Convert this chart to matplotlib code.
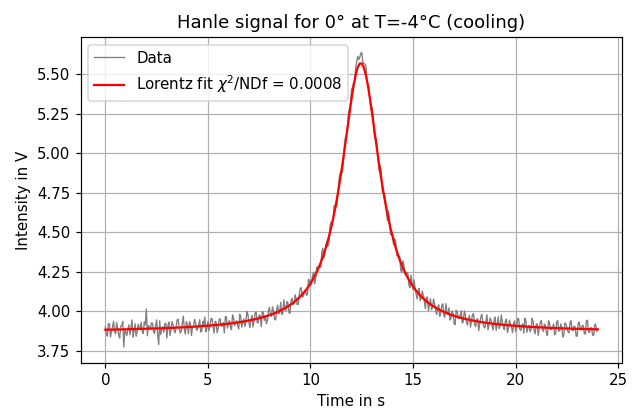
import numpy as np
import matplotlib
matplotlib.use('Agg')
import matplotlib.pyplot as plt

# Zeitachse: 0 bis 24 s in 0.05 s Schritten
zeit = np.round(np.arange(0, 481) * 0.05, 2)

# gemessene Intensitaet (V) bei 0.0, 0.1, 0.2, ... s (aus dem Bild abgeschaetzt)
messung_a = [
    3.902, 3.843, 3.920, 3.875, 3.937, 3.858, 3.892, 3.831, 3.910, 3.775,
    3.869, 3.890, 3.852, 3.946, 3.880, 3.843, 3.919, 3.900, 3.869, 3.934,
    4.015, 3.910, 3.887, 3.925, 3.861, 3.946, 3.790, 3.853, 3.903, 3.920,
    3.832, 3.932, 3.885, 3.916, 3.864, 3.946, 3.896, 3.876, 3.970, 3.856,
    3.914, 3.934, 3.848, 3.907, 3.926, 3.889, 3.947, 3.878, 3.918, 3.871,
    3.937, 3.905, 3.955, 3.864, 3.931, 3.893, 3.953, 3.909, 3.863, 3.966,
    3.923, 3.898, 3.978, 3.909, 3.941, 3.889, 3.964, 3.934, 3.904, 4.000,
    3.928, 3.952, 3.901, 3.989, 3.930, 3.978, 3.903, 3.992, 3.973, 3.940,
    4.025, 3.969, 4.002, 3.946, 4.039, 3.998, 3.981, 4.073, 4.004, 4.056,
    3.988, 4.083, 4.049, 4.081, 4.043, 4.145, 4.091, 4.126, 4.102, 4.203,
    4.164, 4.224, 4.174, 4.278, 4.274, 4.279, 4.399, 4.362, 4.440, 4.431,
    4.565, 4.578, 4.669, 4.685, 4.844, 4.888, 4.944, 5.099, 5.147, 5.283,
    5.406, 5.444, 5.538, 5.612, 5.607, 5.637, 5.567, 5.553, 5.436, 5.324,
    5.289, 5.128, 5.091, 4.954, 4.924, 4.759, 4.742, 4.643, 4.635, 4.485,
    4.489, 4.459, 4.356, 4.352, 4.259, 4.318, 4.236, 4.248, 4.164, 4.230,
    4.138, 4.143, 4.079, 4.145, 4.086, 4.101, 4.017, 4.090, 4.047, 4.011,
    4.078, 4.010, 4.025, 3.969, 4.038, 3.974, 4.049, 3.981, 3.945, 4.003,
    3.924, 4.008, 3.954, 3.977, 3.926, 4.003, 3.933, 3.954, 3.900, 3.981,
    3.918, 3.950, 3.878, 3.962, 3.933, 3.895, 3.979, 3.913, 3.945, 3.883,
    3.964, 3.915, 3.892, 3.978, 3.899, 3.939, 3.866, 3.945, 3.902, 3.924,
    3.872, 3.956, 3.887, 3.913, 3.863, 3.940, 3.902, 3.872, 3.956, 3.877,
    3.917, 3.849, 3.929, 3.891, 3.920, 3.862, 3.941, 3.885, 3.898, 3.852,
    3.933, 3.875, 3.921, 3.838, 3.926, 3.897, 3.865, 3.941, 3.876, 3.900,
    3.844, 3.932, 3.883, 3.909, 3.857, 3.944, 3.867, 3.896, 3.847, 3.918,
    3.884,
]

# gemessene Intensitaet (V) bei 0.05, 0.15, 0.25, ... s
messung_b = [
    3.859, 3.923, 3.838, 3.900, 3.874, 3.930, 3.853, 3.907, 3.937, 3.879,
    3.847, 3.915, 3.900, 3.836, 3.922, 3.870, 3.895, 3.931, 3.860, 3.914,
    3.846, 3.900, 3.928, 3.870, 3.909, 3.855, 3.941, 3.889, 3.867, 3.926,
    3.909, 3.847, 3.936, 3.882, 3.900, 3.951, 3.863, 3.925, 3.889, 3.935,
    3.859, 3.921, 3.901, 3.950, 3.881, 3.914, 3.870, 3.937, 3.964, 3.892,
    3.880, 3.954, 3.904, 3.937, 3.865, 3.951, 3.904, 3.930, 3.967, 3.894,
    3.943, 3.884, 3.959, 3.932, 3.910, 3.983, 3.900, 3.953, 3.932, 3.981,
    3.898, 3.973, 3.937, 3.996, 3.927, 3.969, 4.000, 3.943, 3.922, 4.004,
    3.976, 4.029, 3.950, 4.012, 3.984, 4.058, 3.987, 4.027, 4.062, 3.992,
    4.069, 4.044, 4.105, 4.044, 4.101, 4.150, 4.094, 4.134, 4.106, 4.195,
    4.173, 4.248, 4.200, 4.282, 4.289, 4.372, 4.336, 4.419, 4.410, 4.533,
    4.543, 4.667, 4.660, 4.766, 4.874, 4.879, 5.037, 5.104, 5.248, 5.315,
    5.416, 5.451, 5.574, 5.591, 5.630, 5.576, 5.564, 5.456, 5.416, 5.275,
    5.246, 5.092, 5.028, 4.888, 4.885, 4.749, 4.709, 4.574, 4.586, 4.506,
    4.422, 4.448, 4.348, 4.345, 4.246, 4.298, 4.232, 4.237, 4.150, 4.181,
    4.199, 4.109, 4.124, 4.068, 4.129, 4.064, 4.088, 4.005, 4.080, 4.030,
    4.046, 3.979, 4.042, 3.989, 4.048, 3.964, 3.994, 4.023, 3.955, 3.987,
    3.917, 3.998, 3.955, 4.004, 3.937, 3.975, 3.913, 3.975, 3.943, 3.985,
    3.904, 3.953, 3.924, 3.982, 3.904, 3.939, 3.883, 3.958, 3.909, 3.946,
    3.881, 3.966, 3.911, 3.935, 3.884, 3.951, 3.893, 3.916, 3.865, 3.940,
    3.897, 3.949, 3.879, 3.921, 3.958, 3.868, 3.911, 3.885, 3.937, 3.858,
    3.922, 3.897, 3.943, 3.873, 3.910, 3.847, 3.927, 3.887, 3.921, 3.861,
    3.942, 3.878, 3.900, 3.853, 3.921, 3.871, 3.930, 3.880, 3.908, 3.843,
    3.924, 3.886, 3.912, 3.859, 3.940, 3.870, 3.898, 3.851, 3.915, 3.874,
]

messung = np.empty(len(zeit))
messung[0::2] = messung_a
messung[1::2] = messung_b

# Lorentz-Fit (V) bei 0.0, 0.1, 0.2, ... s
fit_zeit = zeit[0::2]
fit = [
    3.884, 3.885, 3.885, 3.885, 3.885, 3.886, 3.886, 3.886, 3.886, 3.887,
    3.887, 3.887, 3.888, 3.888, 3.888, 3.889, 3.889, 3.889, 3.890, 3.890,
    3.890, 3.891, 3.891, 3.892, 3.892, 3.892, 3.893, 3.893, 3.894, 3.894,
    3.895, 3.895, 3.896, 3.896, 3.897, 3.898, 3.898, 3.899, 3.900, 3.900,
    3.901, 3.902, 3.902, 3.903, 3.904, 3.905, 3.906, 3.907, 3.908, 3.909,
    3.910, 3.911, 3.912, 3.913, 3.914, 3.915, 3.917, 3.918, 3.919, 3.921,
    3.922, 3.924, 3.926, 3.927, 3.929, 3.931, 3.933, 3.935, 3.938, 3.940,
    3.943, 3.945, 3.948, 3.951, 3.954, 3.957, 3.961, 3.964, 3.968, 3.972,
    3.976, 3.981, 3.986, 3.991, 3.997, 4.003, 4.009, 4.016, 4.024, 4.032,
    4.040, 4.049, 4.059, 4.070, 4.082, 4.094, 4.108, 4.123, 4.139, 4.157,
    4.177, 4.199, 4.222, 4.248, 4.277, 4.309, 4.344, 4.383, 4.426, 4.474,
    4.526, 4.585, 4.649, 4.720, 4.797, 4.880, 4.969, 5.063, 5.158, 5.254,
    5.344, 5.426, 5.493, 5.542, 5.567, 5.567, 5.542, 5.493, 5.426, 5.344,
    5.254, 5.158, 5.063, 4.969, 4.880, 4.797, 4.720, 4.649, 4.585, 4.526,
    4.474, 4.426, 4.383, 4.344, 4.309, 4.277, 4.248, 4.222, 4.199, 4.177,
    4.157, 4.139, 4.123, 4.108, 4.094, 4.082, 4.070, 4.059, 4.049, 4.040,
    4.032, 4.024, 4.016, 4.009, 4.003, 3.997, 3.991, 3.986, 3.981, 3.976,
    3.972, 3.968, 3.964, 3.961, 3.957, 3.954, 3.951, 3.948, 3.945, 3.943,
    3.940, 3.938, 3.935, 3.933, 3.931, 3.929, 3.927, 3.926, 3.924, 3.922,
    3.921, 3.919, 3.918, 3.917, 3.915, 3.914, 3.913, 3.912, 3.911, 3.910,
    3.909, 3.908, 3.907, 3.906, 3.905, 3.904, 3.903, 3.902, 3.902, 3.901,
    3.900, 3.900, 3.899, 3.898, 3.898, 3.897, 3.896, 3.896, 3.895, 3.895,
    3.894, 3.894, 3.893, 3.893, 3.892, 3.892, 3.892, 3.891, 3.891, 3.890,
    3.890, 3.890, 3.889, 3.889, 3.889, 3.888, 3.888, 3.888, 3.887, 3.887,
    3.887,
]

chi2_ndf = 0.0008

fig, ax = plt.subplots(figsize=(634 / 108, 412 / 108), dpi=108)
plt.subplots_adjust(left=0.1273, right=0.9816, top=0.910, bottom=0.119)

ax.plot(zeit, messung, color='gray', lw=0.9, label='Data')
ax.plot(fit_zeit, fit, color='red', lw=1.5,
        label=r'Lorentz fit $\chi^2$/NDf = ' + f'{chi2_ndf}')

ax.set_title('Hanle signal for 0° at T=-4°C (cooling)')
ax.set_xlabel('Time in s')
ax.set_ylabel('Intensity in V')
ax.set_ylim(3.674, 5.734)
ax.grid(True)
ax.legend(loc='upper left')

plt.savefig('out.png', dpi=108)
plt.close()
